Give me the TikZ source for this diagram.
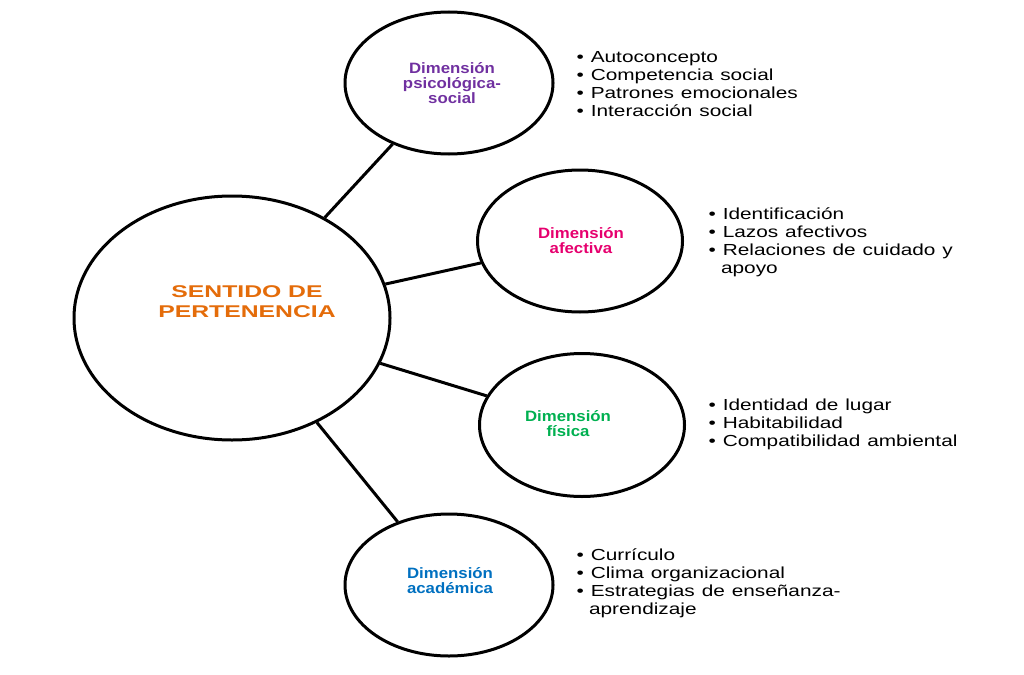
\documentclass[tikz,border=0pt]{standalone}
\usepackage{fontspec}
\setmainfont{Liberation Sans}
\usetikzlibrary{shapes.geometric}
\definecolor{cpur}{RGB}{112,48,160}
\definecolor{cpink}{RGB}{230,0,110}
\definecolor{cgreen}{RGB}{0,176,80}
\definecolor{cblue}{RGB}{0,112,192}
\definecolor{corange}{RGB}{228,108,10}
\begin{document}
\begin{tikzpicture}[x=1pt,y=-1pt,
  circ/.style={ellipse,draw=black,line width=3pt,inner sep=0pt},
  ttl/.style={font=\bfseries\fontsize{15}{15}\selectfont,align=center,xscale=1.12,transform shape},
  lst/.style={font=\fontsize{16}{18}\selectfont,align=left,anchor=west,text width=250pt,xscale=1.3,transform shape},
  con/.style={line width=3pt}]
\useasboundingbox (0,0) rectangle (1024,674);
\node[circ,minimum width=316pt,minimum height=244pt] (c) at (232,318) {};
\node[circ,minimum width=208pt,minimum height=142pt] (p) at (449,83) {};
\node[circ,minimum width=205pt,minimum height=142pt] (a) at (580,241) {};
\node[circ,minimum width=205pt,minimum height=143pt] (f) at (582,425) {};
\node[circ,minimum width=208pt,minimum height=142pt] (d) at (449,585) {};
\draw[con] (c) -- (p); \draw[con] (c) -- (a); \draw[con] (c) -- (f); \draw[con] (c) -- (d);
\node[ttl,text=corange,font=\bfseries\fontsize{17}{20}\selectfont,xscale=1.3] (ct) at (247,302) {SENTIDO DE\\PERTENENCIA};
\node[ttl,text=cpur] (pt) at (452,83) {Dimensión\\psicológica-\\social};
\node[ttl,text=cpink] (at) at (581,241) {Dimensión\\afectiva};
\node[ttl,text=cgreen] (ft) at (568,424) {Dimensión\\física};
\node[ttl,text=cblue] (dt) at (450,581) {Dimensión\\académica};
\node[lst] (pl) at (572,84) {• Autoconcepto\\• Competencia social\\• Patrones emocionales\\• Interacción social};
\node[lst] (al) at (704,242) {• Identificación\\• Lazos afectivos\\• Relaciones de cuidado y\\\hspace*{0.6em}apoyo};
\node[lst] (fl) at (704,424) {• Identidad de lugar\\• Habitabilidad\\• Compatibilidad ambiental};
\node[lst] (dl) at (572,583) {• Currículo\\• Clima organizacional\\• Estrategias de enseñanza-\\\hspace*{0.6em}aprendizaje};
\end{tikzpicture}
\end{document}
